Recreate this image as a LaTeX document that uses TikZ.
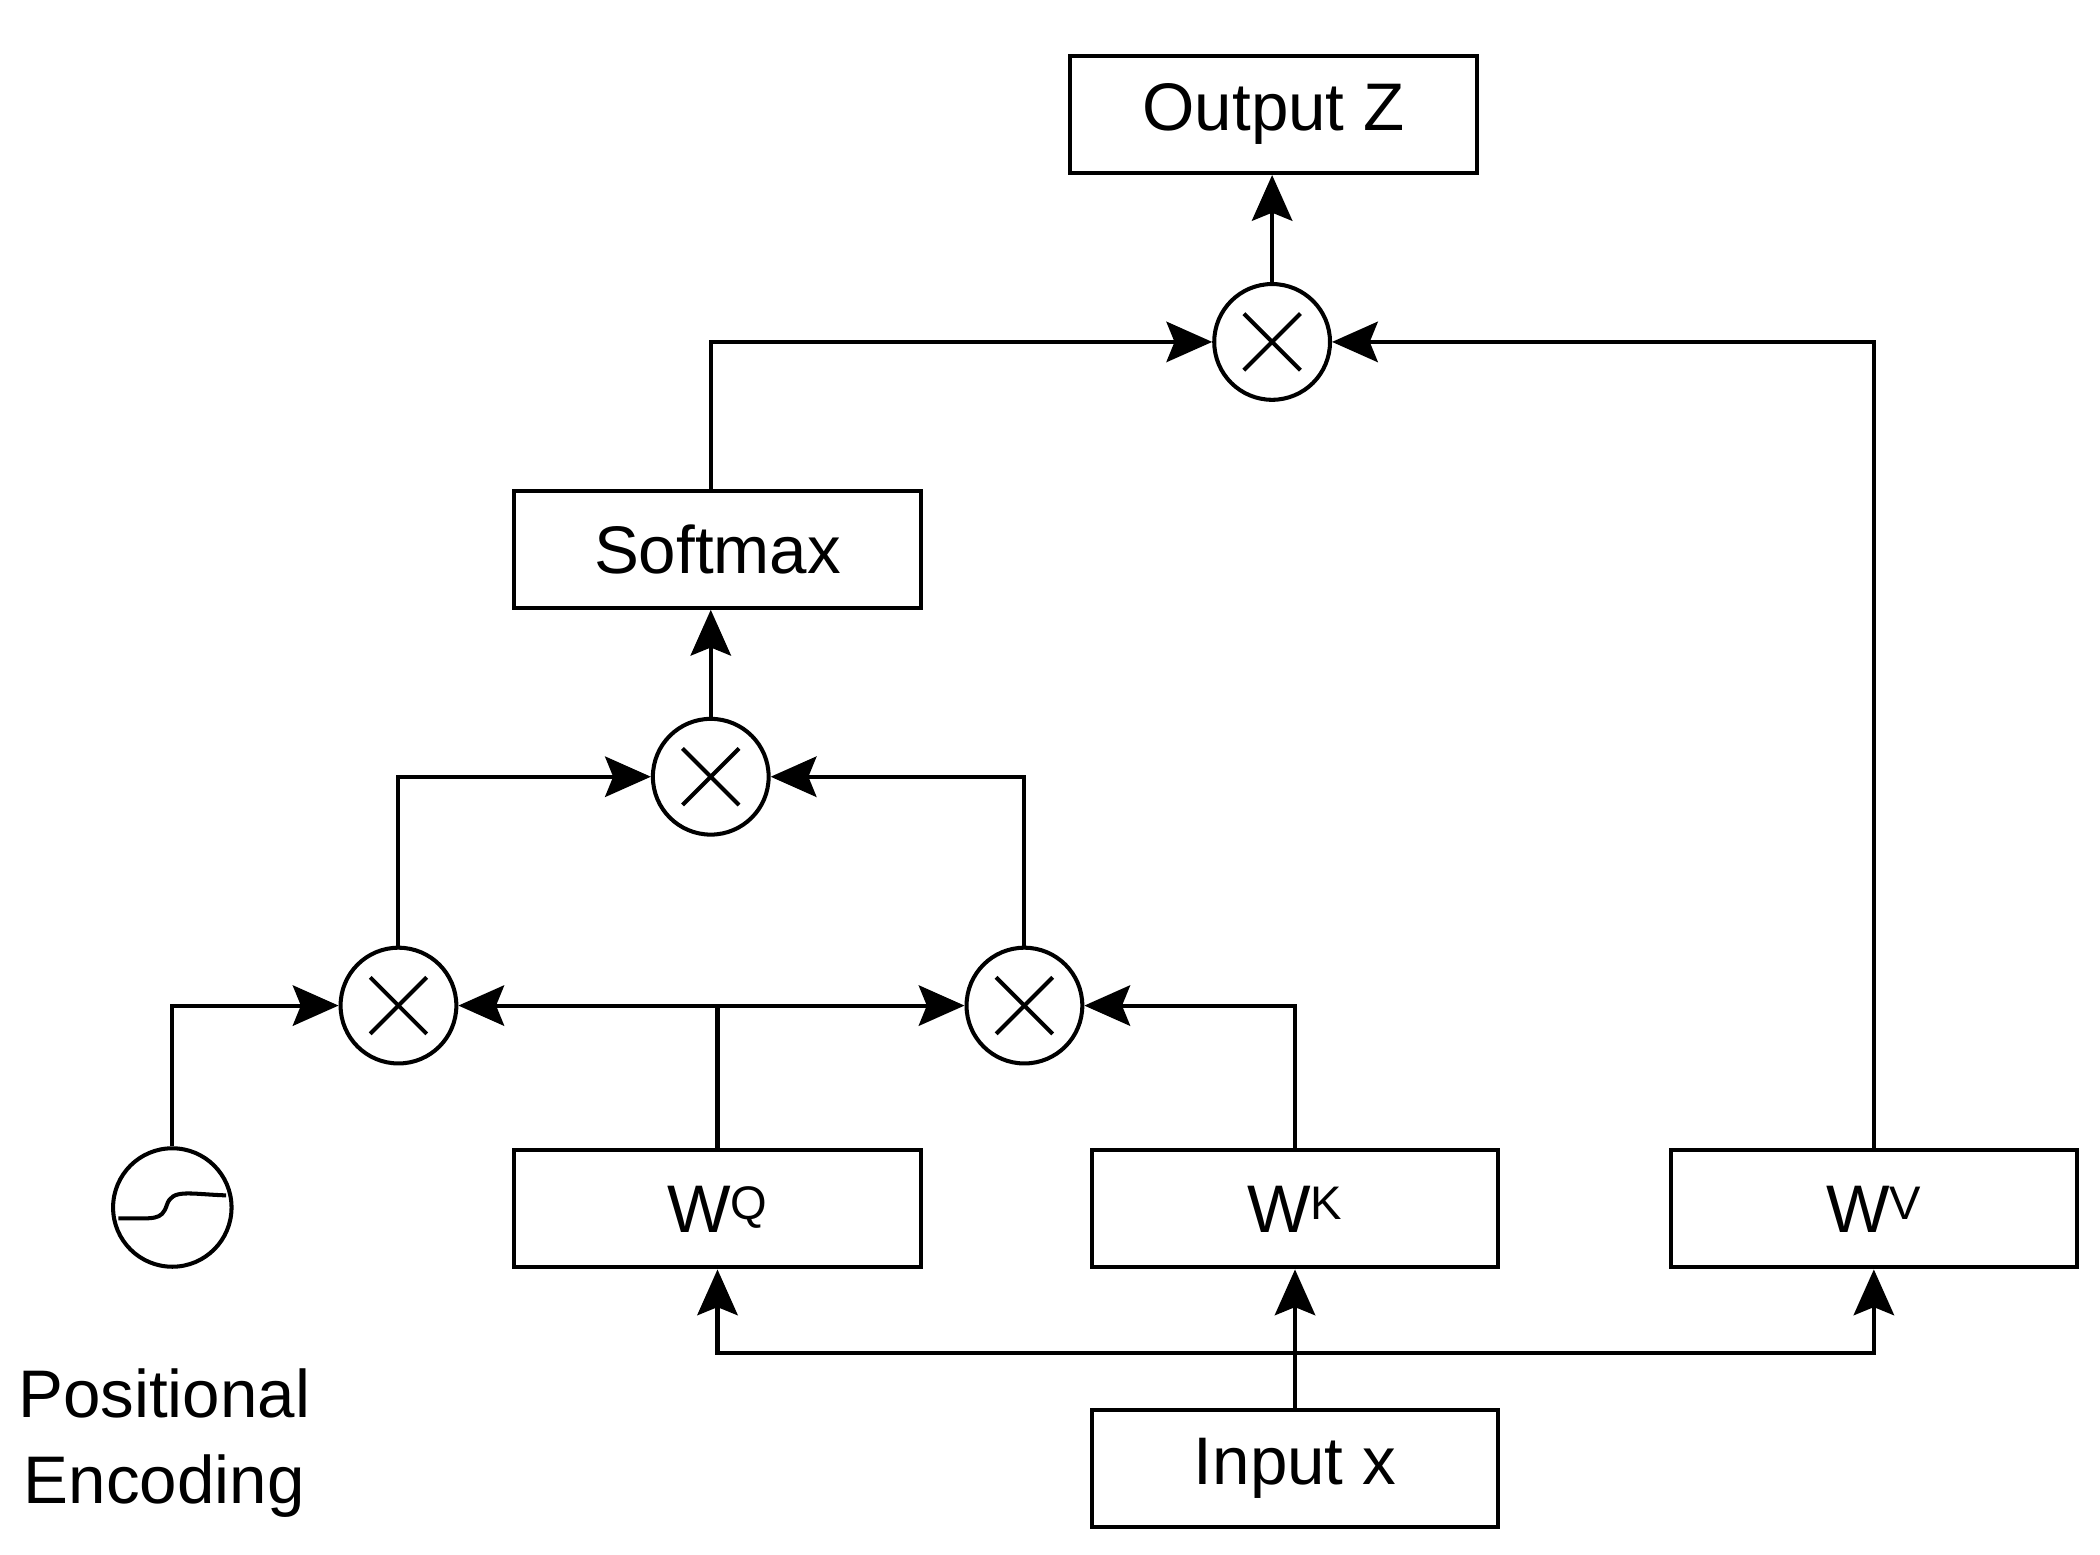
\documentclass[tikz,border=0pt]{standalone}
\usepackage{fontspec}
\setmainfont{Liberation Sans}
\usetikzlibrary{arrows.meta}
\begin{document}
\begin{tikzpicture}[x=1pt,y=-1pt,line width=3pt,
  box/.style={draw,minimum width=302pt,minimum height=87pt,inner sep=0pt,font=\fontsize{50}{56}\selectfont},
  mul/.style={draw,circle,minimum size=86pt,inner sep=0pt,
    path picture={\draw[line width=3pt] ([shift={(-21pt,-21pt)}]path picture bounding box.center)--([shift={(21pt,21pt)}]path picture bounding box.center);
    \draw[line width=3pt] ([shift={(-21pt,21pt)}]path picture bounding box.center)--([shift={(21pt,-21pt)}]path picture bounding box.center);}},
  arr/.style={-{Stealth[length=34pt,width=30pt,inset=6pt]}}]
\useasboundingbox (0,0) rectangle (1560,1155);
\node[box] (out) at (946,85) {Output Z};
\node[mul] (m4) at (945,254) {};
\node[box] (soft) at (533,408) {Softmax};
\node[mul] (m3) at (528,577) {};
\node[mul] (m1) at (296,747) {};
\node[mul] (m2) at (761,747) {};
\node[draw,circle,minimum size=88pt,inner sep=0pt] (pe) at (128,897) {};
\draw (88,905) .. controls (115,905) and (120,907) .. (124,895) .. controls (128,883) and (140,887) .. (168,888);
\node[box] (wq) at (533,898) {W\textsuperscript{Q}};
\node[box] (wk) at (962,898) {W\textsuperscript{K}};
\node[box] (wv) at (1392,898) {W\textsuperscript{V}};
\node[box] (in) at (962,1091) {Input x};
\node[align=center,font=\fontsize{50}{64}\selectfont] (pel) at (122,1072) {Positional\\Encoding};
\coordinate (j) at (962,1005);
\draw[arr] (in.north) -- (wk.south);
\draw[arr] (j) -| (wq.south);
\draw[arr] (j) -| (wv.south);
\coordinate (q) at (533,747);
\draw (wq.north) -- (q);
\draw[arr] (q) -- (m1.east);
\draw[arr] (q) -- (m2.west);
\draw[arr] (wk.north) |- (m2.east);
\draw[arr] (pe.north) |- (m1.west);
\draw[arr] (m1.north) |- (m3.west);
\draw[arr] (m2.north) |- (m3.east);
\draw[arr] (m3.north) -- (soft.south-|m3.north);
\draw[arr] (soft.north-|m3.north) |- (m4.west);
\draw[arr] (wv.north) |- (m4.east);
\draw[arr] (m4.north) -- (out.south-|m4.north);
\end{tikzpicture}
\end{document}
